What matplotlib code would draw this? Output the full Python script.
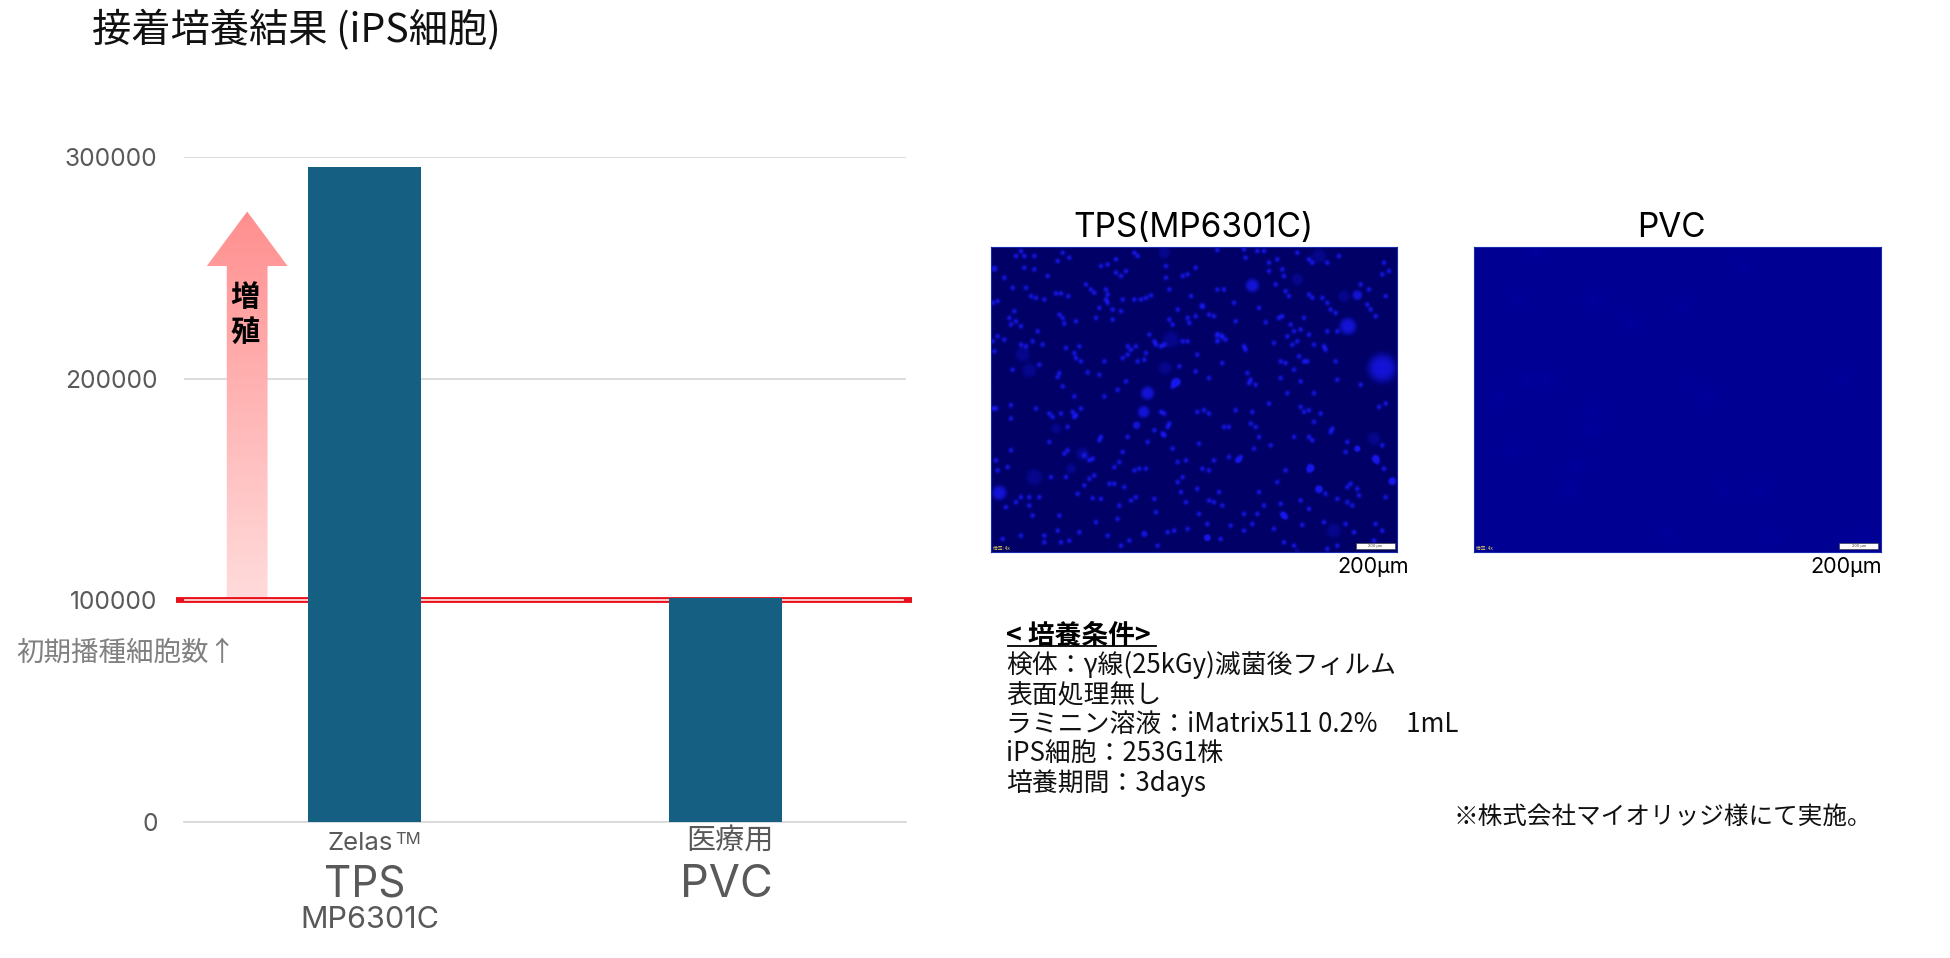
import numpy as np
import matplotlib
matplotlib.use('Agg')
import matplotlib.pyplot as plt
from matplotlib.patches import Polygon, Rectangle
from matplotlib.lines import Line2D

LATIN_JP = ['Inter', 'Noto Sans CJK JP']
JP = ['Noto Sans CJK JP', 'DejaVu Sans']

# chart values
categories = ['TPS', 'PVC']
cell_counts = [295700, 101000]
initial_cells = 100000
y_ticks = [0, 100000, 200000, 300000]

# arrow (data units)
arrow_x = -0.325
arrow_bottom = 101000
arrow_neck = 250800
arrow_tip = 275400

# TPS micrograph: small spots read per quadrant, in 3x crop pixels
spots_q1 = [
    (75,30),(90,15),(100,30),(100,65),(130,70),(130,30),(200,45),(215,20),(235,35),(40,95),(170,90),(65,125),(105,125),
    (20,165),(5,170),(120,150),(135,155),(160,160),(195,142),(210,142),(232,150),(285,115),(300,130),(310,140),(345,130),
    (350,145),(345,160),(350,170),(325,185),(365,190),(390,195),(365,220),(315,215),(205,205),(215,215),(220,232),(255,225),
    (70,195),(55,215),(75,225),(60,235),(90,240),(20,270),(140,255),(125,285),(90,295),(105,300),(155,295),(225,305),(265,300),
    (250,320),(255,335),(270,345),(10,315),(65,370),(205,380),(200,392),(215,420),(145,355),(290,378),(325,385),(340,345),
    (380,430),(405,405),(395,335),(440,345),(460,340),(465,320),(410,300),(420,310),(410,325),(435,300),(495,295),(510,300),
    (520,295),(475,265),(490,285),(535,220),(545,235),(590,215),(595,230),(560,190),(430,160),(450,160),(465,155),(480,148),
    (395,160),(375,40),(375,80),(405,75),(390,90),(330,60),(350,55),(525,60),(525,95),(575,90),(590,85),(535,130),(575,285),
    (590,285),(565,360),(550,410),(560,405),(545,420),(340,450),(250,450),(40,280),(5,285),(430,20),(440,30),(600,150),
]
spots_q2 = [
    (70,12),(150,10),(190,15),(210,15),(155,35),(250,40),(225,50),(225,75),(265,70),(270,90),(310,20),(345,40),(355,50),
    (400,50),(435,30),(570,50),(565,85),(585,75),(5,65),(90,130),(70,130),(120,170),(245,115),(275,135),(285,150),(345,145),
    (355,155),(385,155),(400,170),(410,190),(425,200),(500,115),(525,130),(520,175),(530,190),(545,210),(575,150),(25,180),
    (45,205),(60,210),(195,185),(5,210),(125,225),(215,228),(255,215),(265,210),(290,235),(330,215),(70,265),(85,270),(95,280),
    (70,285),(240,290),(280,270),(300,255),(320,250),(345,265),(295,295),(310,285),(360,295),(390,300),(150,300),(155,310),
    (10,325),(85,350),(260,345),(275,350),(315,330),(330,345),(340,345),(395,310),(425,345),(160,380),(170,400),(185,415),
    (165,410),(260,395),(300,370),(320,405),(360,440),(430,400),(5,375),(45,395),(280,440),(500,415),(400,255),(430,255),
]
spots_q3 = [
    (15,30),(60,60),(60,20),(135,30),(175,45),(185,55),(210,45),(245,40),(255,50),(270,30),(250,55),(510,40),(520,45),(490,95),
    (515,105),(520,110),(535,75),(530,85),(545,150),(175,130),(230,155),(220,165),(325,125),(330,115),(410,115),(395,160),
    (385,190),(370,205),(280,170),(295,185),(305,180),(180,235),(225,235),(295,240),(310,230),(355,255),(370,255),(400,265),
    (430,215),(445,210),(465,210),(560,190),(585,185),(575,235),(560,250),(570,280),(585,310),(15,185),(20,215),(50,205),(60,155),
    (90,295),(115,295),(115,320),(125,350),(75,310),(145,295),(45,325),(260,285),(305,298),(330,300),(385,320),(420,305),(435,295),
    (490,300),(495,340),(205,350),(315,370),(380,360),(90,410),(160,410),(160,430),(210,430),(235,425),(265,400),(200,395),
    (350,410),(390,440),(415,425),(530,400),(550,395),(500,440),(590,390),(230,85),(470,130),(35,420),(5,30),(280,260),
]
spots_q4 = [
    (10,40),(45,45),(30,35),(125,35),(175,40),(225,15),(320,25),(330,40),(345,35),(380,45),(360,70),(555,25),(575,15),(90,85),
    (105,85),(170,75),(185,85),(195,115),(180,150),(230,140),(345,115),(355,125),(300,115),(15,135),(105,175),(130,185),(140,175),
    (60,185),(25,210),(45,215),(410,100),(415,90),(460,130),(490,150),(455,160),(565,140),(545,180),(550,190),(570,210),(350,205),
    (345,215),(250,250),(275,215),(10,270),(45,305),(60,310),(85,320),(195,280),(210,320),(260,315),(265,345),(275,355),(320,305),
    (345,330),(375,270),(395,285),(430,300),(460,265),(470,255),(490,270),(495,290),(475,320),(460,310),(575,295),(595,245),
    (150,345),(190,345),(75,280),(15,345),(40,375),(110,380),(150,395),(175,375),(325,378),(390,370),(455,375),(480,400),(545,375),
    (565,395),(40,415),(80,420),(240,390),(300,440),(270,430),(430,440),(400,450),(540,425),
]
# bright blobs (x, y, r) and out of focus ones, same crop pixels
blobs_q1 = [(10,68,10),(470,440,20),(555,408,14)]
blobs_q2 = [(175,118,20),(490,147,15),(462,240,25),(565,365,42)]
blobs_q3 = [(458,40,18),(437,80,12),(25,282,22),(460,405,10)]
blobs_q4 = [(375,272,12),(350,208,12),(595,248,12),(545,180,12),(490,150,9),(135,183,9),(40,417,10),(270,350,10)]
dim_q1 = [(95,325,22),(115,372,22),(522,365,20),(520,20,18),(540,280,25)]
dim_q2 = [(450,150,18),(310,100,18),(375,30,22),(25,180,12),(75,270,15)]
dim_q3 = [(130,235,25),(275,165,20),(240,210,15),(195,90,15)]
dim_q4 = [(420,395,22),(540,120,20),(310,455,8)]
# faint mottling in the PVC picture (x, y in 3x crop pixels)
pvc_mottle = [(187,20),(127,160),(357,160),(467,230),(627,180),(807,60),(117,610),(287,730),(307,660),(697,450),(647,410),
              (357,490),(347,550),(887,870),(577,860),(157,400),(217,400),(77,450),(747,730),(857,730),(1107,400),(1167,870)]

conditions = [
    '検体：γ線(25kGy)滅菌後フィルム',
    '表面処理無し',
    'ラミニン溶液：iMatrix511 0.2%     1mL',
    'iPS細胞：253G1株',
    '培養期間：3days',
]

W, H = 1950, 958
IMG_W, IMG_H = 406, 305
fig = plt.figure(figsize=(W / 100, H / 100), dpi=100, facecolor='white')


def px_axes(x0, y0, x1, y1):
    # axes from pixel box, y counted from top
    return fig.add_axes([x0 / W, 1 - y1 / H, (x1 - x0) / W, (y1 - y0) / H])


def px_text(x, y, s, **kw):
    kw.setdefault('ha', 'center')
    kw.setdefault('va', 'center')
    return fig.text(x / W, 1 - y / H, s, **kw)


# bar chart
ax = px_axes(184, 157, 906, 822)
ax.set_xlim(-0.5, 1.5)
ax.set_ylim(0, 300000)
ax.bar(range(len(categories)), cell_counts, width=0.313, color='#156082', zorder=4)
ax.set_yticks(y_ticks)
ax.set_yticklabels([str(v) for v in y_ticks], family=LATIN_JP, fontsize=17.7, color='#595959')
ax.set_xticks([])
ax.tick_params(axis='y', length=0, pad=19)
ax.grid(axis='y', color='#d9d9d9', lw=1.3, zorder=0)
ax.set_axisbelow(True)
for s in ax.spines.values():
    s.set_visible(False)
ax.spines['bottom'].set_visible(True)
ax.spines['bottom'].set_color('#d9d9d9')
ax.spines['bottom'].set_linewidth(1.3)

# red line for the seeded count, sticks out past the axes
ax.plot([-0.523, 1.516], [initial_cells] * 2, color='#e8101a', lw=4.2, solid_capstyle='butt', clip_on=False, zorder=3)
ax.plot([-0.50, 1.495], [initial_cells] * 2, color='#ffd8d8', lw=1.3, solid_capstyle='butt', clip_on=False, zorder=3)

# gradient arrow
shaft, head = 0.0565, 0.112
arrow = Polygon([
    (arrow_x - shaft, arrow_bottom), (arrow_x + shaft, arrow_bottom), (arrow_x + shaft, arrow_neck),
    (arrow_x + head, arrow_neck), (arrow_x, arrow_tip), (arrow_x - head, arrow_neck), (arrow_x - shaft, arrow_neck),
], closed=True, facecolor='none', edgecolor='none', transform=ax.transData)
ax.add_patch(arrow)
grad = np.linspace(0, 1, 256).reshape(-1, 1, 1)
top_c = np.array([1.0, 0.56, 0.56])
bot_c = np.array([1.0, 0.86, 0.86])
rgb = top_c * (1 - grad) + bot_c * grad
im = ax.imshow(rgb, extent=(arrow_x - head, arrow_x + head, arrow_bottom, arrow_tip), aspect='auto', zorder=2)
im.set_clip_path(arrow)
ax.set_xlim(-0.5, 1.5)
ax.set_ylim(0, 300000)

px_text(245, 297, '増', family=JP, fontsize=21, fontweight='bold', color='black')
px_text(245, 332, '殖', family=JP, fontsize=21, fontweight='bold', color='black')
px_text(16, 653, '初期播種細胞数↑', ha='left', family=JP, fontsize=19.8, color='#808080')

# category labels
px_text(360, 844, 'Zelas', family=LATIN_JP, fontsize=18.5, color='#595959')
px_text(408, 839, 'TM', family=LATIN_JP, fontsize=12, color='#595959')
px_text(365, 885, 'TPS', family=LATIN_JP, fontsize=30.5, color='#595959')
px_text(370, 920, 'MP6301C', family=LATIN_JP, fontsize=22, color='#595959')
px_text(730, 842, '医療用', family=JP, fontsize=21, color='#595959')
px_text(726, 885, 'PVC', family=LATIN_JP, fontsize=32.5, color='#595959')

px_text(92, 31, '接着培養結果 (iPS細胞)', ha='left', family=JP, fontsize=28.3, color='#111111')


def add_spots(field, yy, xx, pts, sigma, amp):
    for x, y in pts:
        field += amp * np.exp(-((xx - x) ** 2 + (yy - y) ** 2) / (2 * sigma ** 2))


def add_discs(field, yy, xx, pts, amp):
    for x, y, r in pts:
        field += amp * np.exp(-(((xx - x) ** 2 + (yy - y) ** 2) / r ** 2) ** 2)


def micrograph(x0, x1, field, bg, peak):
    a = px_axes(x0, 246.7, x1, 551.7)
    field = np.clip(field, 0, 1)[:, :, None]
    a.imshow(np.array(bg) * (1 - field) + np.array(peak) * field, extent=(0, IMG_W, IMG_H, 0),
             aspect='auto', interpolation='bilinear')
    a.set_xticks([])
    a.set_yticks([])
    for s in a.spines.values():
        s.set_color('#1a2ab0')
        s.set_linewidth(0.8)
    # scale bar + magnification stamp
    a.add_patch(Rectangle((364.5, 296), 39, 6.5, facecolor='white', edgecolor='#333333', lw=0.4, zorder=5))
    a.text(384, 299.3, '200 µm', ha='center', va='center', fontsize=2.8, family=LATIN_JP, color='#333333', zorder=6)
    a.text(2, 302, '倍率: 4x', ha='left', va='center', fontsize=3.4, family=JP, color='#e8d860', zorder=6)
    return a


yy, xx = np.mgrid[0:IMG_H, 0:IMG_W] + 0.5

# TPS picture, one offset per quadrant crop
tps = np.zeros((IMG_H, IMG_W))
quads = [(spots_q1, blobs_q1, dim_q1, 0, 0), (spots_q2, blobs_q2, dim_q2, 203, 0),
         (spots_q3, blobs_q3, dim_q3, 0, 152), (spots_q4, blobs_q4, dim_q4, 203, 152)]
for spots, blobs, dims, ox, oy in quads:
    add_spots(tps, yy, xx, [(x / 3 + ox, y / 3 + oy) for x, y in spots], 1.7, 0.95)
    add_discs(tps, yy, xx, [(x / 3 + ox, y / 3 + oy, r / 3) for x, y, r in blobs], 0.85)
    add_discs(tps, yy, xx, [(x / 3 + ox, y / 3 + oy, r / 3) for x, y, r in dims], 0.3)
micrograph(991.3, 1397.3, tps, (0, 0, 0.40), (0.09, 0.09, 0.92))

# PVC picture, nearly flat
pvc = np.zeros((IMG_H, IMG_W))
add_spots(pvc, yy, xx, [(x / 3, y / 3) for x, y in pvc_mottle], 6, 0.1)
micrograph(1474.3, 1880.7, pvc, (0, 0, 0.58), (0.05, 0.05, 0.85))

px_text(1193, 228, 'TPS(MP6301C)', family=LATIN_JP, fontsize=24, color='black')
px_text(1671, 228, 'PVC', family=LATIN_JP, fontsize=24, color='black')
px_text(1373, 567, '200µm', family=LATIN_JP, fontsize=15.5, color='black')
px_text(1846, 567, '200µm', family=LATIN_JP, fontsize=15.5, color='black')

# culture conditions
px_text(1006, 636, '< 培養条件>', ha='left', family=JP, fontsize=19.3, fontweight='bold', color='black')
fig.add_artist(Line2D([1008 / W, 1156 / W], [1 - 646 / H] * 2, color='black', lw=1.3))
for i, line in enumerate(conditions):
    px_text(1006, 665 + i * 29.5, line, ha='left', family=JP, fontsize=18.6, color='#111111')
px_text(1872, 817, '※株式会社マイオリッジ様にて実施。', ha='right', family=JP, fontsize=17.7, color='#111111')

fig.savefig('out.png', dpi=100)
